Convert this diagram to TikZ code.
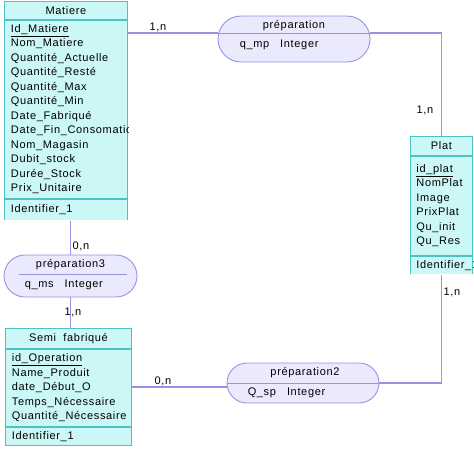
\documentclass[tikz,border=0pt]{standalone}
\usepackage{fontspec}
\setmainfont{Liberation Sans}[LetterSpace=6]
\usetikzlibrary{positioning, shapes.misc}

\definecolor{entfill}{RGB}{204,247,247}
\definecolor{entborder}{RGB}{76,194,194}
\definecolor{relfill}{RGB}{234,234,252}
\definecolor{relborder}{RGB}{150,146,232}
\definecolor{linkcol}{RGB}{156,146,228}

\begin{document}
\begin{tikzpicture}[
    x=1pt, y=-1pt,
    every node/.style={font=\fontsize{11}{14.5}\selectfont},
    enthead/.style={rectangle, draw=entborder, fill=entfill, line width=0.9pt, inner sep=0pt, anchor=north west},
    entbody/.style={rectangle, draw=entborder, fill=entfill, line width=0.9pt, inner xsep=6.5pt, inner ysep=0pt, align=left},
    entfoot/.style={rectangle, draw=entborder, fill=entfill, line width=0.9pt, inner xsep=6.5pt, inner ysep=0pt, align=left},
    relbox/.style={rounded rectangle, draw=relborder, fill=relfill, line width=0.9pt, inner sep=0pt},
    relsep/.style={draw=relborder, line width=0.9pt},
    reltitle/.style={inner sep=0pt},
    relattr/.style={inner sep=0pt, anchor=west},
    link/.style={draw=linkcol, line width=1.1pt},
    card/.style={inner sep=0pt}
]
\useasboundingbox (0,0) rectangle (474,451);

% Relations
\node[relbox, minimum width=152, minimum height=46] (prep) at (294,39) {};
\node[relbox, minimum width=133, minimum height=42] (prepiii) at (70.5,276) {};
\node[relbox, minimum width=152, minimum height=40] (prepii) at (303,383) {};

\draw[relsep] ([yshift=6pt]prep.west) -- ([yshift=6pt]prep.east);
\draw[relsep] ([xshift=15pt,yshift=2pt]prepiii.west) -- ([xshift=-10pt,yshift=2pt]prepiii.east);
\draw[relsep] (prepii.west) -- (prepii.east);

\node[reltitle] (preptitle) at ([yshift=13pt]prep.center) {préparation};
\node[relattr] (prepattr) at ([xshift=22pt,yshift=-6pt]prep.west) {q\_mp\quad Integer};
\node[reltitle] (prepiiititle) at ([yshift=11pt]prepiii.center) {préparation3};
\node[relattr] (prepiiiattr) at ([xshift=21pt,yshift=-9pt]prepiii.west) {q\_ms\quad Integer};
\node[reltitle] (prepiititle) at ([xshift=2pt,yshift=10pt]prepii.center) {préparation2};
\node[relattr] (prepiiattr) at ([xshift=21pt,yshift=-10pt]prepii.west) {Q\_sp\quad Integer};

% Matiere
\begin{scope}
\clip (3,0) rectangle (128,219);
\node[enthead, minimum width=123, minimum height=18] (matierehead) at (4,1) {Matiere};
\node[entbody, minimum width=123, minimum height=178, text width=110, below=0pt of matierehead] (matierebody)
    {\underline{Id\_Matiere}\\Nom\_Matiere\\Quantité\_Actuelle\\Quantité\_Resté\\Quantité\_Max\\Quantité\_Min\\
     Date\_Fabriqué\\Date\_Fin\_Consomation\\Nom\_Magasin\\Dubit\_stock\\Durée\_Stock\\Prix\_Unitaire};
\node[entfoot, minimum width=123, minimum height=21, text width=110, below=0pt of matierebody] (matierefoot) {Identifier\_1};
\end{scope}

% Plat
\begin{scope}
\clip (409,135) rectangle (473,273);
\node[enthead, minimum width=62, minimum height=19] (plathead) at (410,136) {Plat};
\node[entbody, minimum width=62, minimum height=99, text width=50, inner xsep=6pt, below=0pt of plathead] (platbody)
    {\underline{id\_plat}\\NomPlat\\Image\\PrixPlat\\Qu\_init\\Qu\_Res};
\node[entfoot, minimum width=62, minimum height=18, text width=50, inner xsep=6pt, below=0pt of platbody] (platfoot) {Identifier\_1};
\end{scope}

% Semi fabrique
\node[enthead, minimum width=126, minimum height=20] (semihead) at (5,328) {Semi\ \ fabriqué};
\node[entbody, minimum width=126, minimum height=77, text width=113, below=0pt of semihead] (semibody)
    {\underline{id\_Operation}\\Name\_Produit\\date\_Début\_O\\Temps\_Nécessaire\\Quantité\_Nécessaire};
\node[entfoot, minimum width=126, minimum height=18, text width=113, below=0pt of semibody] (semifoot) {Identifier\_1};

% Links
\coordinate (prepl) at ([yshift=6pt]prep.west);
\coordinate (prepr) at ([yshift=6pt]prep.east);
\coordinate (prepiil) at ([yshift=-4pt]prepii.west);
\draw[link] (matierebody.east |- prepl) -- (prepl);
\draw[link] (prepr) -| (plathead.north);
\draw[link] (prepiii.north |- matierefoot.south) -- (prepiii.north);
\draw[link] (prepiii.south) -- (prepiii.south |- semihead.north);
\draw[link] (semibody.east |- prepiil) -- (prepiil);
\draw[link] (prepii.east) -| (platfoot.south);

% Cardinalities
\node[card] (cardmp) at (158,27) {1,n};
\node[card] (cardpm) at (425,110) {1,n};
\node[card] (cardms) at (81,246) {0,n};
\node[card] (cardsm) at (73,312) {1,n};
\node[card] (cardsp) at (163,381) {0,n};
\node[card] (cardps) at (452,292) {1,n};

\end{tikzpicture}
\end{document}
